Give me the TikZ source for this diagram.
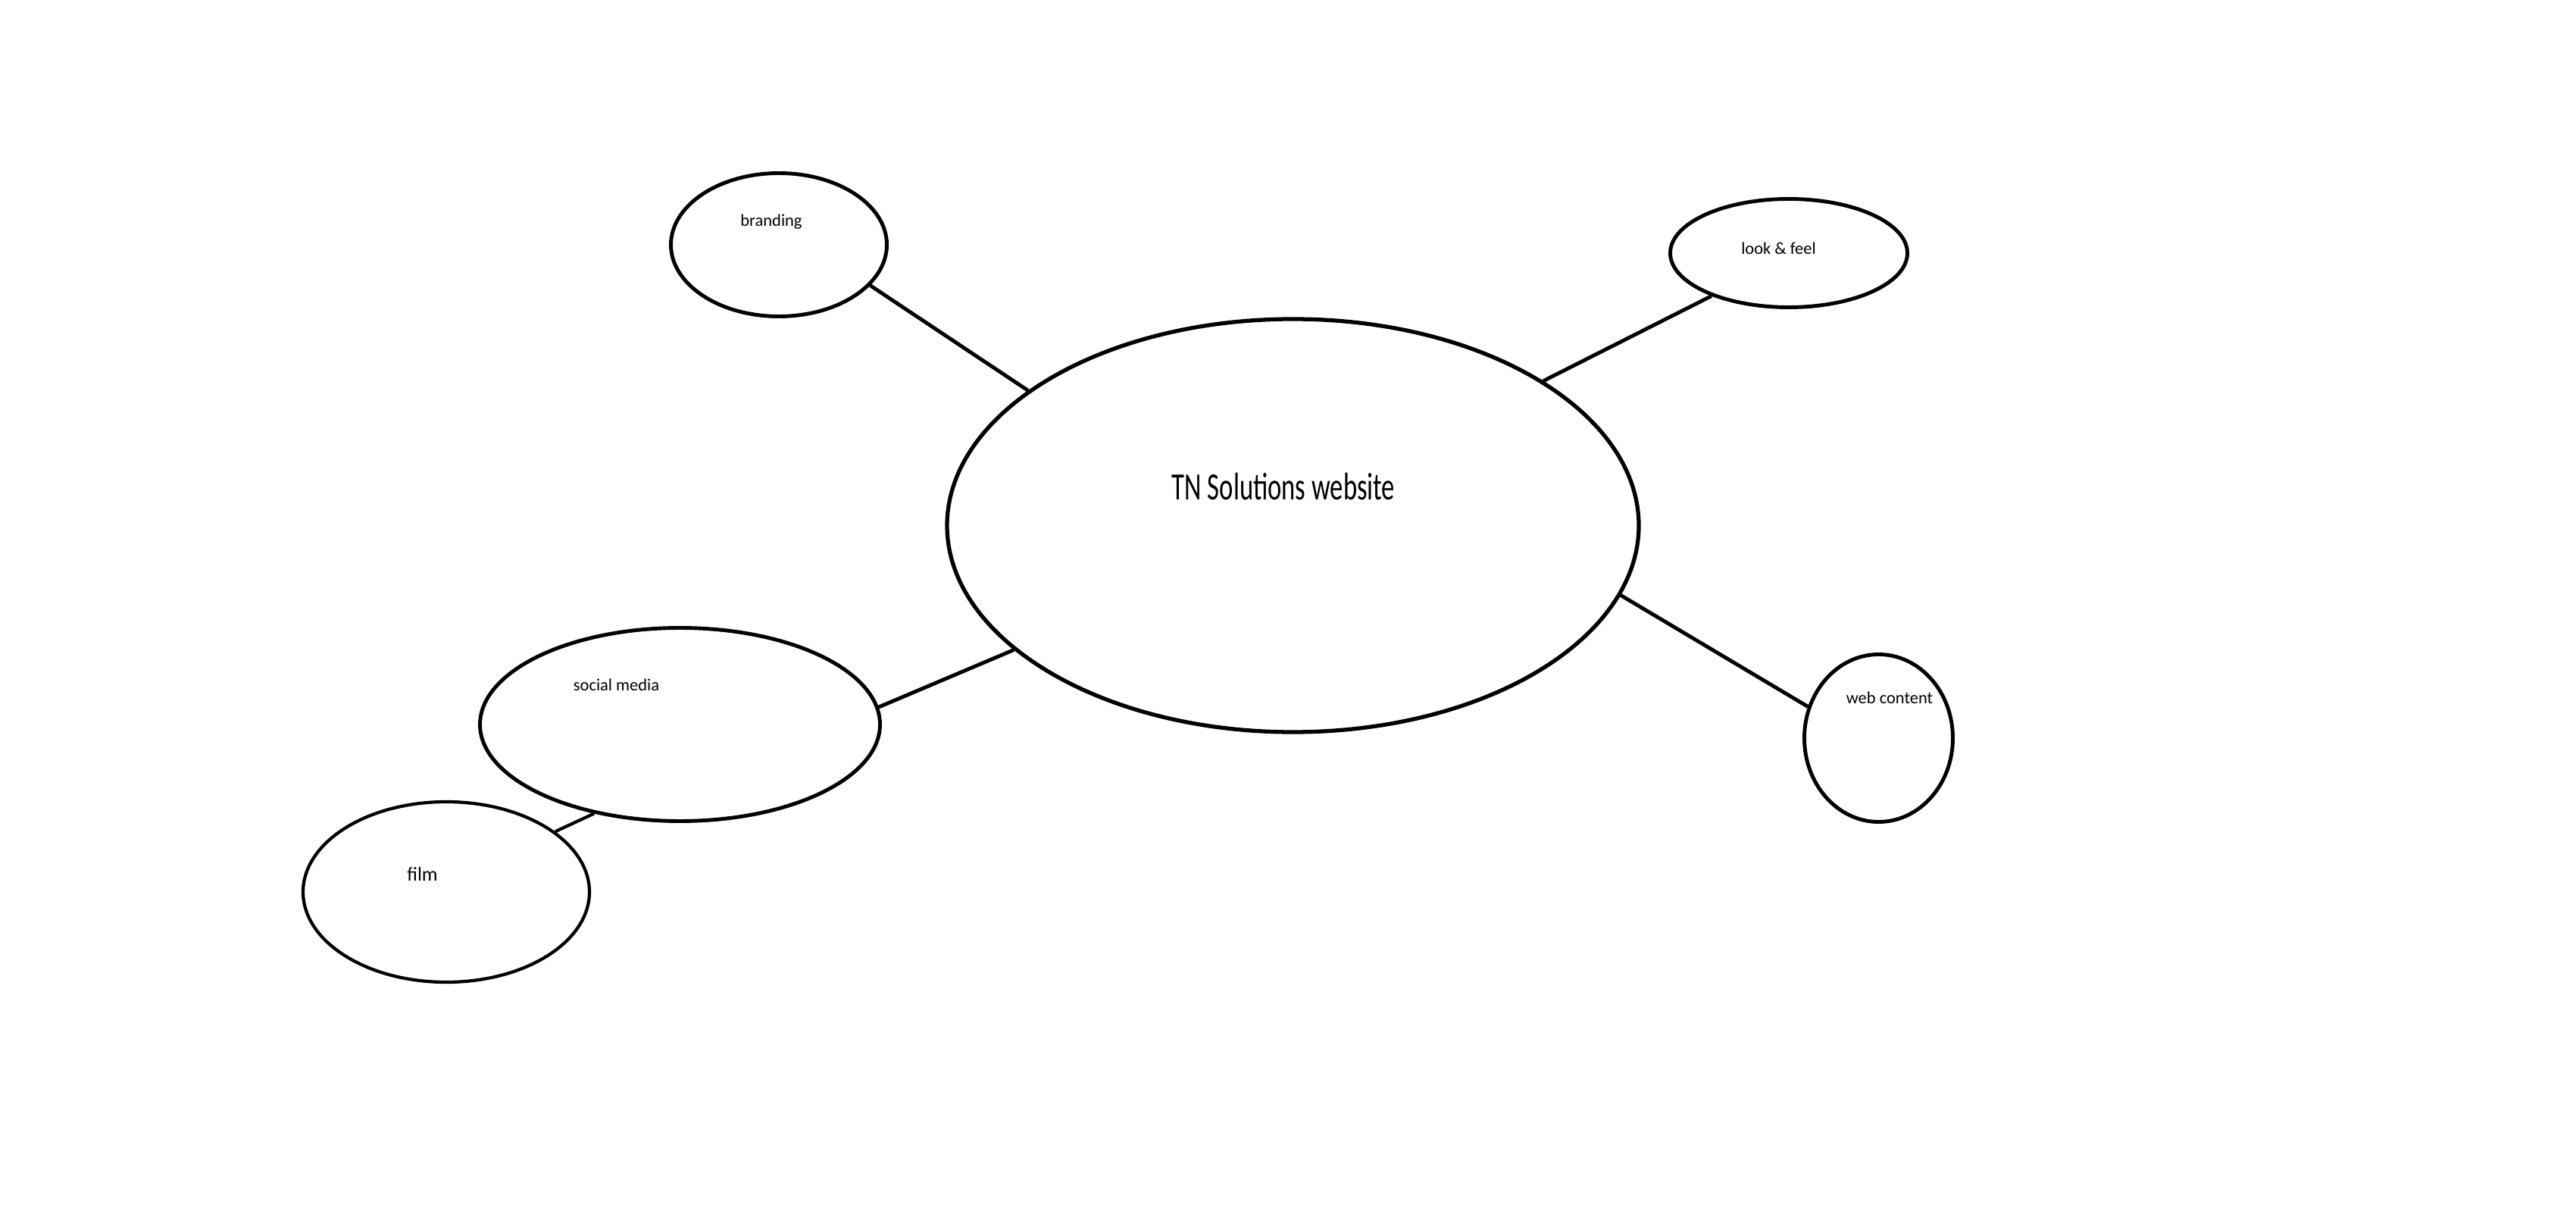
\documentclass[tikz,border=0pt]{standalone}
\usepackage{fontspec}
\setmainfont{Carlito}
\usetikzlibrary{shapes.geometric}

\begin{document}
\begin{tikzpicture}[line width=1.4pt,
  bubble/.style={draw, ellipse, inner sep=0pt},
  lbl/.style={anchor=base, inner sep=0pt, font=\fontsize{6.4pt}{7pt}\selectfont}]

\useasboundingbox (0,0) rectangle (34,15.93);

% bubbles
\node [bubble, line width=1.5pt, minimum width=9.13cm, minimum height=5.45cm] (main) at (17.065,8.995) {};
\node [bubble, minimum width=2.85cm, minimum height=1.89cm] (branding) at (10.28,12.70) {};
\node [bubble, minimum width=3.13cm, minimum height=1.43cm] (look) at (23.61,12.59) {};
\node [bubble, minimum width=1.96cm, minimum height=2.21cm] (web) at (24.795,6.19) {};
\node [bubble, minimum width=5.28cm, minimum height=2.55cm] (social) at (8.975,6.37) {};
\node [bubble, line width=1.2pt, minimum width=3.78cm, minimum height=2.38cm] (film) at (5.89,4.16) {};

% texts
\node [lbl, font=\fontsize{14.5pt}{16pt}\selectfont] (maintxt) at ([shift={(-0.125,0.335)}]main.center) {\scalebox{0.68}[1]{TN Solutions website}};
\node [lbl] (brandingtxt) at ([shift={(-0.10,0.243)}]branding.center) {branding};
\node [lbl] (looktxt) at ([shift={(-0.135,-0.02)}]look.center) {look \& feel};
\node [lbl] (webtxt) at ([shift={(0.145,0.45)}]web.center) {web content};
\node [lbl] (socialtxt) at ([shift={(-0.84,0.44)}]social.center) {social media};
\node [lbl, font=\fontsize{7.4pt}{8pt}\selectfont] (filmtxt) at ([shift={(-0.315,0.14)}]film.center) {film};

% links
\draw (branding.-24) -- (main.153);
\draw (look.-151) -- (main.30.5);
\draw (web.156) -- (main.-12.4);
\draw (social.5) -- (main.204.6);
\draw [line width=1.2pt] (film.29) -- (social.226);

\end{tikzpicture}
\end{document}
